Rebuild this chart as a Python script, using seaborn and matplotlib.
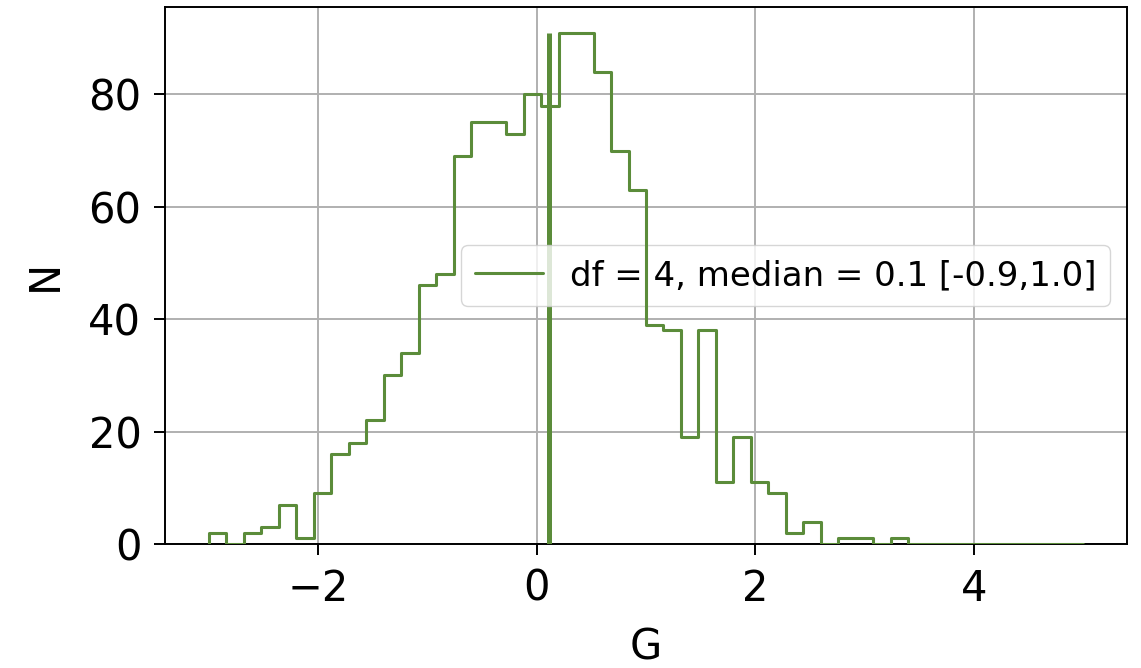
import numpy as np
import pandas as pd
import matplotlib
matplotlib.use("Agg")
import matplotlib.pyplot as plt
import seaborn as sns

# Histogram: 50 bins from -3 to 5
bin_start = -3.0
bin_stop = 5.0
n_bins = 50
counts = [2, 0, 2, 3, 7, 1, 9, 16, 18, 22,
          30, 34, 46, 48, 69, 75, 75, 73, 80, 78,
          91, 91, 84, 70, 63, 39, 38, 19, 38, 11,
          19, 11, 9, 2, 4, 0, 1, 1, 0, 1,
          0, 0, 0, 0, 0, 0, 0, 0, 0, 0]
median_value = 0.11
label = "df = 4, median = 0.1 [-0.9,1.0]"
x_ticks = [-2, 0, 2, 4]
y_ticks = [0, 20, 40, 60, 80]

edges = np.linspace(bin_start, bin_stop, n_bins + 1)
# closed step outline (like a step histogram): start and end at the baseline
xs = np.concatenate([[edges[0]], edges])
ys = np.concatenate([[0], counts, [0]])
df = pd.DataFrame({"G": xs, "N": ys})

color = "#5b8c3a"

sns.set_theme(style="ticks")
plt.rcParams["font.family"] = ["DejaVu Sans"]
plt.rcParams["text.color"] = "black"
plt.rcParams["axes.labelcolor"] = "black"

fig = plt.figure(figsize=(11.41, 6.68), dpi=100)
ax = fig.add_axes([165 / 1141, 1 - 544 / 668, (1127 - 165) / 1141, (544 - 7) / 668])

sns.lineplot(data=df, x="G", y="N", estimator=None, sort=False, drawstyle="steps-post",
             color=color, linewidth=2.2, ax=ax, label=label, zorder=6)
ax.vlines(median_value, 0, max(counts), color=color, linewidth=3.6, zorder=3)

ax.set_xlim(bin_start - 0.05 * (bin_stop - bin_start), bin_stop + 0.05 * (bin_stop - bin_start))
ax.set_ylim(0, max(counts) * 1.05)
ax.set_xticks(x_ticks)
ax.set_yticks(y_ticks)
ax.grid(True, color="#b0b0b0", linewidth=1.4)
ax.set_axisbelow(True)
for s in ax.spines.values():
    s.set_linewidth(1.4)
    s.set_color("black")
ax.tick_params(labelsize=30, width=1.4, length=8, colors="black", pad=9)
ax.set_xlabel("G", fontsize=30, labelpad=12)
ax.set_ylabel("N", fontsize=30, labelpad=16)
leg = ax.legend(loc="center right", fontsize=24.5, framealpha=0.8)

fig.savefig("out.png", dpi=100)
